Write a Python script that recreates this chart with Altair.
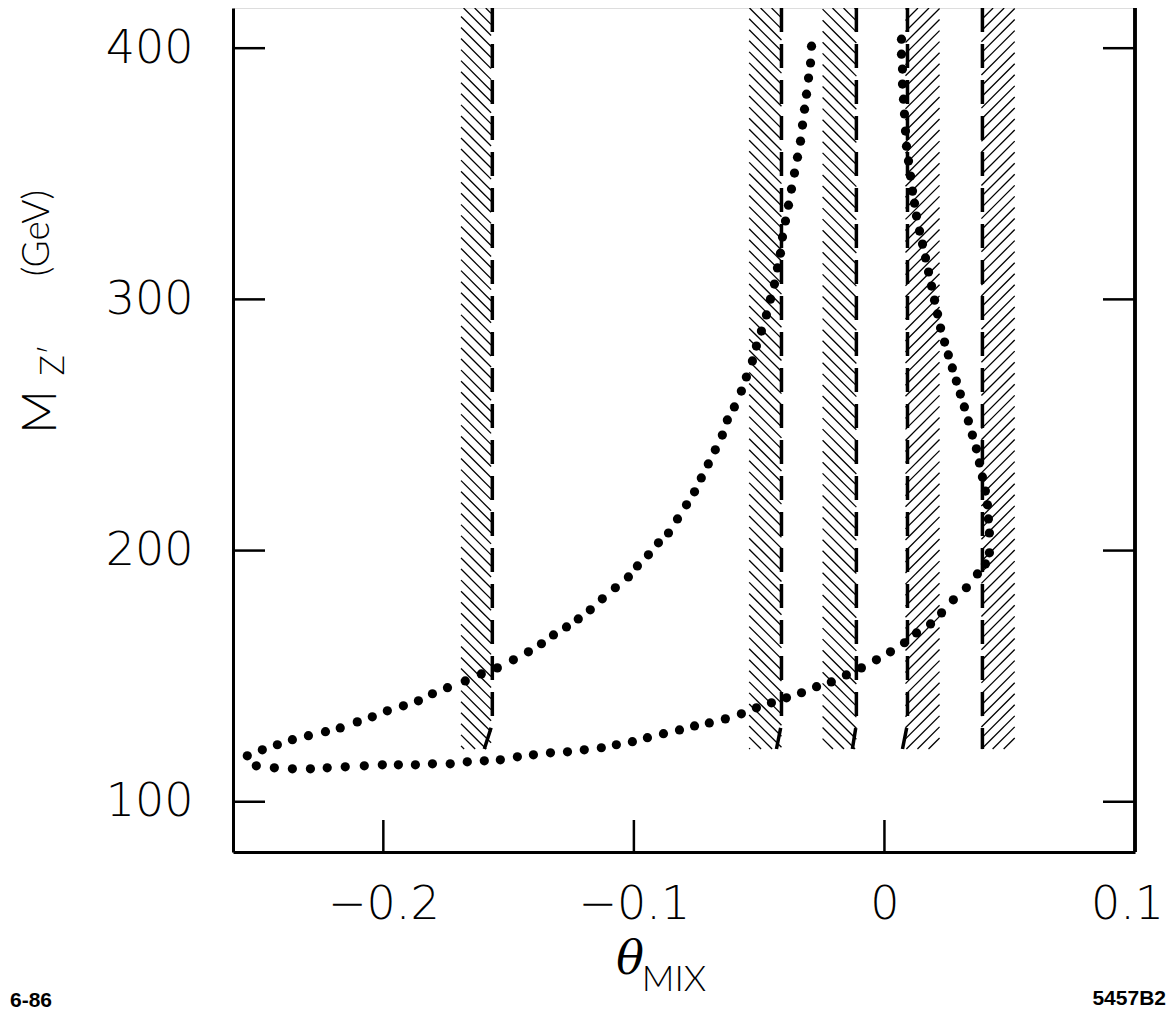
import altair as alt
import numpy as np
import pandas as pd

# ---------------- data ----------------
# upper-left dotted branch
a_theta = [-0.2543, -0.2483, -0.2423, -0.2363, -0.2299, -0.2231, -0.2172, -0.2104, -0.2044, -0.1984,
           -0.1920, -0.1860, -0.1804, -0.1744, -0.1673, -0.1609, -0.1545, -0.1481, -0.1421, -0.1369,
           -0.1321, -0.1269, -0.1222, -0.1174, -0.1126, -0.1074, -0.1022, -0.0986, -0.0942, -0.0902,
           -0.0862, -0.0826, -0.0790, -0.0758, -0.0731, -0.0703, -0.0675, -0.0647, -0.0627, -0.0599,
           -0.0571, -0.0551, -0.0527, -0.0511, -0.0491, -0.0471, -0.0455, -0.0439, -0.0427, -0.0415,
           -0.0407, -0.0395, -0.0383, -0.0371, -0.0359, -0.0347, -0.0335, -0.0327, -0.0319, -0.0311,
           -0.0303, -0.0295, -0.0291]
a_mass = [118.3, 120.7, 122.7, 124.7, 126.3, 127.9, 129.4, 131.8, 133.8, 136.2,
          138.2, 140.2, 143.0, 145.4, 148.1, 150.9, 153.3, 156.5, 159.7, 162.9,
          166.4, 169.6, 172.8, 176.4, 180.8, 185.2, 189.5, 193.9, 198.3, 203.1,
          207.0, 212.6, 218.2, 223.4, 228.9, 234.5, 240.1, 246.0, 252.0, 257.2,
          263.5, 269.1, 275.5, 281.4, 287.4, 293.8, 300.1, 306.1, 312.5, 318.4,
          324.8, 331.2, 337.5, 343.9, 350.3, 356.6, 363.0, 369.4, 375.7, 381.7,
          388.1, 394.1, 400.8]

# lower dotted branch
b_theta = [-0.2507, -0.2435, -0.2363, -0.2291, -0.2224, -0.2152, -0.2076, -0.2004, -0.1940, -0.1872,
           -0.1804, -0.1733, -0.1665, -0.1597, -0.1533, -0.1465, -0.1401, -0.1333, -0.1265, -0.1198,
           -0.1130, -0.1070, -0.1006, -0.0946, -0.0882, -0.0818, -0.0758, -0.0699, -0.0635, -0.0571,
           -0.0511, -0.0451, -0.0391, -0.0331, -0.0271, -0.0212, -0.0152, -0.0092, -0.0032, 0.0024,
           0.0080, 0.0128, 0.0184, 0.0228, 0.0275, 0.0327, 0.0371, 0.0403, 0.0419]
b_mass = [114.3, 113.5, 113.1, 113.1, 113.5, 113.9, 114.3, 114.7, 114.7, 114.7,
          115.1, 115.1, 115.9, 116.3, 116.7, 117.9, 118.7, 119.5, 119.9, 120.7,
          121.5, 122.7, 123.9, 125.5, 127.1, 128.6, 130.2, 131.4, 133.0, 135.0,
          137.4, 139.4, 141.4, 143.4, 145.8, 147.7, 150.5, 153.3, 156.5, 159.7,
          163.3, 167.2, 170.8, 175.2, 180.4, 185.2, 190.7, 194.7, 199.1]

# right dotted branch
c_theta = [0.0068, 0.0068, 0.0072, 0.0072, 0.0076, 0.0080, 0.0084, 0.0088, 0.0096, 0.0104,
           0.0112, 0.0120, 0.0128, 0.0140, 0.0152, 0.0164, 0.0176, 0.0188, 0.0200, 0.0212,
           0.0224, 0.0240, 0.0255, 0.0271, 0.0287, 0.0303, 0.0319, 0.0335, 0.0351, 0.0367,
           0.0379, 0.0391, 0.0403, 0.0411, 0.0415, 0.0419]
c_mass = [403.6, 397.6, 391.7, 385.7, 379.7, 373.8, 367.0, 361.0, 355.1, 349.1,
          343.1, 338.3, 333.2, 327.2, 322.0, 316.5, 310.9, 305.3, 299.7, 294.2,
          288.6, 283.0, 277.9, 272.7, 267.5, 262.3, 257.2, 251.6, 246.0, 240.5,
          234.9, 229.3, 223.7, 218.2, 212.6, 207.0]

# excluded (hatched) bands and their dashed limits
band_lo = [-0.169, -0.054, -0.0247, 0.0084, 0.0387]
band_hi = [-0.157, -0.0411, -0.0112, 0.0220, 0.0520]
hatch_dir = [-1, -1, -1, 1, 1]          # -1: "\\" hatching, +1: "/" hatching
dash_x = [-0.1565, -0.0411, -0.0112, 0.0092, 0.0391]
dash_bend_x = [-0.1597, -0.0431, -0.0128, 0.0072, 0.0391]
band_bottom = 121.0
band_top = 416.0

x_ticks = [-0.2, -0.1, 0.0, 0.1]
y_ticks = [100, 200, 300, 400]

# ---------------- build tables ----------------
dots = pd.concat([
    pd.DataFrame({"theta": a_theta, "m": a_mass, "branch": "a"}),
    pd.DataFrame({"theta": b_theta, "m": b_mass, "branch": "b"}),
    pd.DataFrame({"theta": c_theta, "m": c_mass, "branch": "c"}),
])

hatch_rows = []
step = 4.4
for lo, hi, d in zip(band_lo, band_hi, hatch_dir):
    dy = (hi - lo) * 997.0  # ~45 degrees on screen
    for y0 in np.arange(band_bottom - dy, band_top + dy, step):
        y1 = y0 + d * dy
        tb = (band_bottom - y0) / (y1 - y0)
        tt = (band_top - y0) / (y1 - y0)
        t0 = max(0.0, min(tb, tt))
        t1 = min(1.0, max(tb, tt))
        if t1 - t0 > 0.02:
            hatch_rows.append({
                "x": lo + t0 * (hi - lo), "x2": lo + t1 * (hi - lo),
                "y": y0 + t0 * (y1 - y0), "y2": y0 + t1 * (y1 - y0),
            })
hatch = pd.DataFrame(hatch_rows)

dash_rows = []
for i, (xd, xb) in enumerate(zip(dash_x, dash_bend_x)):
    dash_rows += [
        {"band": i, "o": 0, "x": xd, "y": band_top},
        {"band": i, "o": 1, "x": xd, "y": 131.0},
        {"band": i, "o": 2, "x": xb, "y": band_bottom},
    ]
dashes = pd.DataFrame(dash_rows)

W, H = 902, 844
xs = alt.Scale(domain=[-0.26, 0.1], nice=False, zero=False)
ys = alt.Scale(domain=[80, 416], nice=False, zero=False)
LABEL_FONT = "DejaVu Sans"
TITLE_FONT = "Lato"

x_axis = alt.Axis(
    values=x_ticks, tickSize=0, grid=False, domainWidth=3, domainColor="black",
    labelExpr="datum.value == 0 ? '0' : format(datum.value, '.1f')",
    labelFont=LABEL_FONT, labelFontWeight=200, labelFontSize=46, labelColor="black",
    labelOffset={"condition": {"test": "datum.value > 0.05", "value": -8}, "value": 0},
    labelPadding=30, labelFlush=False, labelOverlap=False, title=None)
y_axis = alt.Axis(
    values=y_ticks, tickSize=0, grid=False, domainWidth=3, domainColor="black",
    labelFont=LABEL_FONT, labelFontWeight=200, labelFontSize=46, labelColor="black",
    labelPadding=40, labelFlush=False, labelOverlap=False, title=None)


def X(field):
    return alt.X(field, scale=xs, axis=x_axis, title=None)


def Y(field):
    return alt.Y(field, scale=ys, axis=y_axis, title=None)


hatch_layer = alt.Chart(hatch).mark_rule(color="black", strokeWidth=1.3, clip=True).encode(
    x=X("x:Q"), x2="x2:Q", y=Y("y:Q"), y2="y2:Q",
)

dash_layer = alt.Chart(dashes).mark_line(
    color="black", strokeWidth=3.5, strokeDash=[24, 12], clip=True
).encode(
    x=X("x:Q"), y=Y("y:Q"), detail="band:N", order="o:Q",
)

dot_layer = alt.Chart(dots).mark_circle(color="black", opacity=1, size=85).encode(
    x=X("theta:Q"), y=Y("m:Q"), detail="branch:N",
)

yt = pd.DataFrame({"v": y_ticks})
xt = pd.DataFrame({"v": x_ticks[:3]})
left_ticks = alt.Chart(yt).mark_rule(color="black", strokeWidth=2.5).encode(
    y=Y("v:Q"), x=alt.value(0), x2=alt.value(32))
right_ticks = alt.Chart(yt).mark_rule(color="black", strokeWidth=2.5).encode(
    y=Y("v:Q"), x=alt.value(W), x2=alt.value(W - 32))
bottom_ticks = alt.Chart(xt).mark_rule(color="black", strokeWidth=2.5).encode(
    x=X("v:Q"), y=alt.value(H), y2=alt.value(H - 32))
right_axis = alt.Chart(yt).mark_rule(color="black", strokeWidth=3).encode(
    x=alt.value(W), y=alt.value(0), y2=alt.value(H))


def txt(s, x, y, size, **kw):
    return alt.Chart(pd.DataFrame({"t": [s]})).mark_text(
        fontSize=size, color="black", **kw).encode(
        text="t:N", x=alt.value(x), y=alt.value(y))


titles = [
    txt("θ", 397, 952, 46, font="DejaVu Serif", fontStyle="italic", fontWeight=300),
    txt("MIX", 441, 972, 36, font=TITLE_FONT, fontWeight=300),
    txt("M", -191, 404, 48, font=TITLE_FONT, fontWeight=300, angle=270),
    txt("Z′", -179, 352, 34, font=TITLE_FONT, fontWeight=300, angle=270),
    txt("(GeV)", -195, 225, 37, font=TITLE_FONT, fontWeight=300, angle=270),
    txt("6-86", -223, 993, 21, font="Liberation Sans", fontWeight="bold", align="left"),
    txt("5457B2", 933, 991, 21, font="Liberation Sans", fontWeight="bold", align="right"),
]

chart = alt.layer(
    hatch_layer, dash_layer, dot_layer, left_ticks, right_ticks, bottom_ticks, right_axis, *titles
).properties(
    width=W, height=H,
    autosize=alt.AutoSizeParams(type="none"),
    padding={"left": 225, "top": 0, "right": 32, "bottom": 160},
).configure_view(strokeWidth=0).configure(background="white")

chart.save("out.html", embed_options={"renderer": "svg", "actions": False})
